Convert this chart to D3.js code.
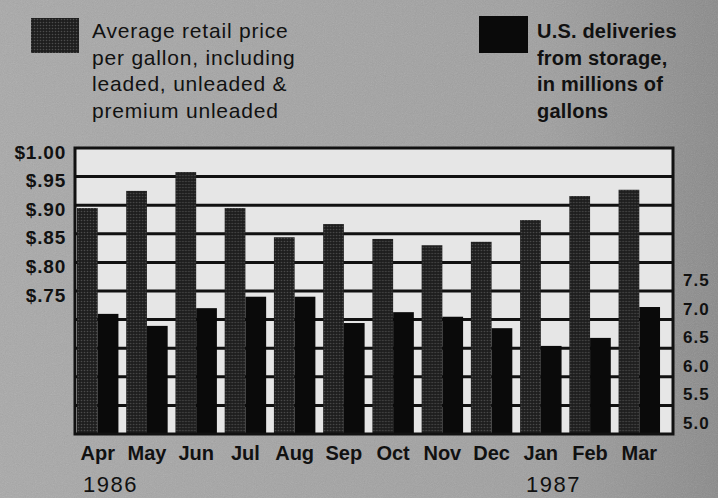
<!DOCTYPE html>
<html lang="en">
  <head>
    <meta charset="utf-8">
    <title>Gasoline prices and deliveries</title>
    <script src="https://d3js.org/d3.v7.js"></script>
    <style>
      body { margin: 0; background: #a3a3a3; }
      text { font-family: "Liberation Sans", Arial, sans-serif; fill: #111; }
    </style>
  </head>

  <body>

  <script>

// Data

  var months = ["Apr", "May", "Jun", "Jul", "Aug", "Sep", "Oct", "Nov", "Dec", "Jan", "Feb", "Mar"];
  var price = [0.895, 0.925, 0.958, 0.895, 0.844, 0.867, 0.841, 0.830, 0.836, 0.874, 0.916, 0.927];  // dollars per gallon
  var deliveries = [7.10, 6.89, 7.20, 7.40, 7.40, 6.94, 7.13, 7.05, 6.85, 6.54, 6.68, 7.22];  // millions of gallons
  var priceTicks = [1.00, 0.95, 0.90, 0.85, 0.80, 0.75];
  var priceTickLabels = ["$1.00", "$.95", "$.90", "$.85", "$.80", "$.75"];
  var deliveryTicks = [7.5, 7.0, 6.5, 6.0, 5.5, 5.0];
  var gridValues = [0.55, 0.60, 0.65, 0.70, 0.75, 0.80, 0.85, 0.90, 0.95];
  var legendPrice = ["Average retail price", "per gallon, including", "leaded, unleaded &", "premium unleaded"];
  var legendDeliv = ["U.S. deliveries", "from storage,", "in millions of", "gallons"];
  var years = [{label: "1986", month: "Apr"}, {label: "1987", month: "Jan"}];

  var w = 718;
  var h = 498;
  var plotLeft = 75, plotRight = 673, plotTop = 148, plotBottom = 434;

  var svg = d3.select("body")
    .append("svg")
      .attr("width", w)
      .attr("height", h);

  var defs = svg.append("defs");

  // grainy newsprint background
  var grad = defs.append("linearGradient").attr("id", "bg");
  grad.append("stop").attr("offset", "0%").attr("stop-color", "#a9a9a9");
  grad.append("stop").attr("offset", "75%").attr("stop-color", "#a0a0a0");
  grad.append("stop").attr("offset", "100%").attr("stop-color", "#8a8a8a");

  var noise = defs.append("filter").attr("id", "noise");
  noise.append("feTurbulence")
      .attr("type", "fractalNoise")
      .attr("baseFrequency", 0.9)
      .attr("numOctaves", 2);
  noise.append("feColorMatrix").attr("type", "saturate").attr("values", 0);

  // halftone for the price bars
  var dots = defs.append("pattern")
      .attr("id", "dots")
      .attr("width", 3)
      .attr("height", 3)
      .attr("patternUnits", "userSpaceOnUse");
  dots.append("rect").attr("width", 3).attr("height", 3).attr("fill", "#1e1e1e");
  dots.append("circle").attr("cx", 1.5).attr("cy", 1.5).attr("r", 0.8).attr("fill", "#4c4c4c");

  svg.append("rect")
      .attr("width", w)
      .attr("height", h)
      .attr("fill", "url(#bg)");
  svg.append("rect")
      .attr("width", w)
      .attr("height", h)
      .attr("filter", "url(#noise)")
      .attr("opacity", 0.22);

// Scales

  var xScale = d3.scaleBand()
      .domain(months)
      .range([plotLeft, 662])
      .paddingInner(0.158)
      .paddingOuter(0.04);

  var xSub = d3.scaleBand()
      .domain(["price", "deliveries"])
      .range([0, xScale.bandwidth()]);

  var yPrice = d3.scaleLinear()
      .domain([0.5, 1.0])
      .range([plotBottom, plotTop]);

  var yDeliv = d3.scaleLinear()
      .domain([5, 10])
      .range([plotBottom, plotTop]);

// Plot area and gridlines

  svg.append("rect")
      .attr("x", plotLeft)
      .attr("y", plotTop)
      .attr("width", plotRight - plotLeft)
      .attr("height", plotBottom - plotTop)
      .attr("fill", "#e6e6e6");

  svg.selectAll("line.grid")
      .data(gridValues)
      .enter().append("line")
      .attr("class", "grid")
      .attr("x1", plotLeft)
      .attr("x2", plotRight)
      .attr("y1", d => yPrice(d))
      .attr("y2", d => yPrice(d))
      .attr("stroke", "#111")
      .attr("stroke-width", 3);

// Bars

  var groups = svg.selectAll("g.month")
      .data(months)
      .enter().append("g")
      .attr("class", "month")
      .attr("transform", d => "translate(" + xScale(d) + ",0)");

  groups.append("rect")
      .attr("x", xSub("price"))
      .attr("y", (d, i) => yPrice(price[i]))
      .attr("width", xSub.bandwidth())
      .attr("height", (d, i) => plotBottom - yPrice(price[i]))
      .attr("fill", "url(#dots)");

  groups.append("rect")
      .attr("x", xSub("deliveries"))
      .attr("y", (d, i) => yDeliv(deliveries[i]))
      .attr("width", xSub.bandwidth())
      .attr("height", (d, i) => plotBottom - yDeliv(deliveries[i]))
      .attr("fill", "#0a0a0a");

  svg.append("rect")
      .attr("x", plotLeft)
      .attr("y", plotTop)
      .attr("width", plotRight - plotLeft)
      .attr("height", plotBottom - plotTop)
      .attr("fill", "none")
      .attr("stroke", "#111")
      .attr("stroke-width", 3);

// Axis labels

  svg.selectAll("text.ptick")
      .data(priceTicks)
      .enter().append("text")
      .attr("class", "ptick")
      .attr("x", 66)
      .attr("y", d => yPrice(d) + 4)
      .attr("dy", "0.35em")
      .attr("text-anchor", "end")
      .attr("font-size", 19)
      .attr("font-weight", "bold")
      .attr("letter-spacing", 0.8)
      .text((d, i) => priceTickLabels[i]);

  svg.selectAll("text.dtick")
      .data(deliveryTicks)
      .enter().append("text")
      .attr("class", "dtick")
      .attr("x", 683)
      .attr("y", d => yDeliv(d) - 11)
      .attr("dy", "0.35em")
      .attr("font-size", 17)
      .attr("font-weight", "bold")
      .attr("letter-spacing", 1)
      .text(d => d.toFixed(1));

  svg.selectAll("text.mon")
      .data(months)
      .enter().append("text")
      .attr("class", "mon")
      .attr("x", d => xScale(d) + xScale.bandwidth() / 2)
      .attr("y", 460)
      .attr("text-anchor", "middle")
      .attr("font-size", 20)
      .attr("font-weight", "bold")
      .text(d => d);

  svg.selectAll("text.year")
      .data(years)
      .enter().append("text")
      .attr("class", "year")
      .attr("x", d => xScale(d.month) + 6)
      .attr("y", 492)
      .attr("font-size", 22)
      .attr("letter-spacing", 1.5)
      .text(d => d.label);

// Legend

  svg.append("rect")
      .attr("x", 31).attr("y", 18)
      .attr("width", 48).attr("height", 35)
      .attr("fill", "url(#dots)");

  svg.append("rect")
      .attr("x", 479).attr("y", 16)
      .attr("width", 49).attr("height", 37)
      .attr("fill", "#0a0a0a");

  svg.selectAll("text.lp")
      .data(legendPrice)
      .enter().append("text")
      .attr("class", "lp")
      .attr("x", 92)
      .attr("y", (d, i) => 38 + i * 26.5)
      .attr("font-size", 21)
      .attr("letter-spacing", 0.8)
      .text(d => d);

  svg.selectAll("text.ld")
      .data(legendDeliv)
      .enter().append("text")
      .attr("class", "ld")
      .attr("x", 537)
      .attr("y", (d, i) => 38 + i * 26.5)
      .attr("font-size", 20)
      .attr("font-weight", "bold")
      .attr("letter-spacing", 0.2)
      .text(d => d);

    </script>

  </body>

</html>
